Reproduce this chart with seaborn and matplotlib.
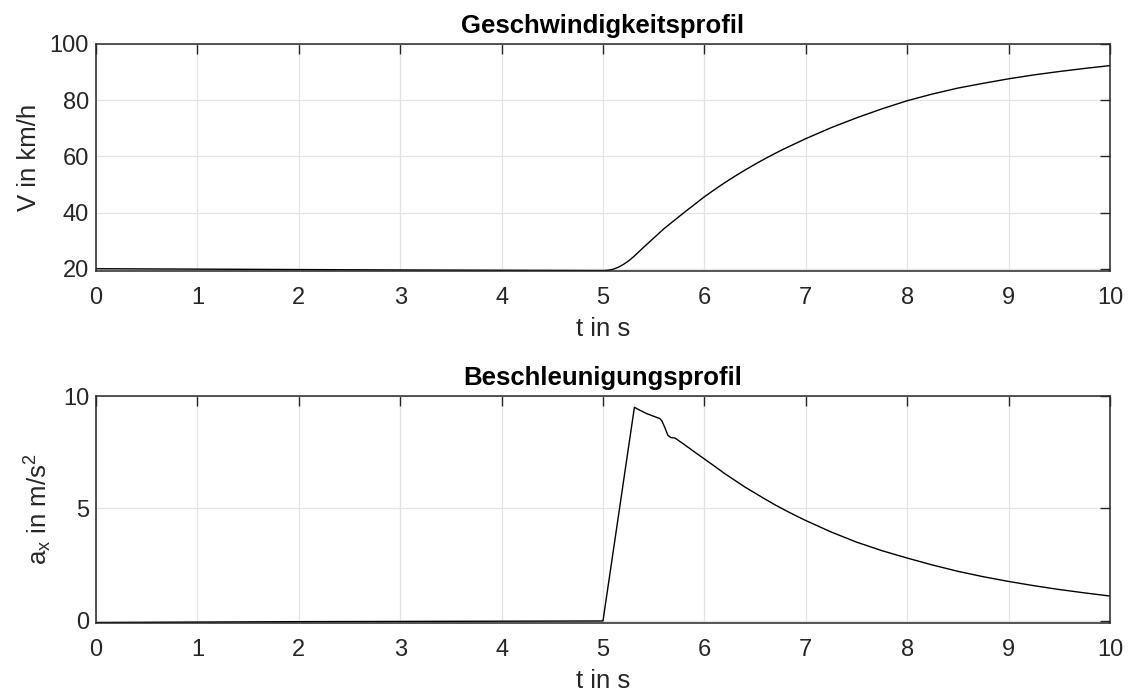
import matplotlib
matplotlib.use("Agg")
import matplotlib.pyplot as plt
import seaborn as sns
import pandas as pd

# Geschwindigkeit (km/h) ueber der Zeit (s)
t_v = [0, 1, 2, 3, 4, 5.0, 5.05, 5.1, 5.15, 5.2, 5.25, 5.3, 5.4, 5.5, 5.6,
       5.7, 5.8, 5.9, 6.0, 6.1, 6.2, 6.3, 6.4, 6.5, 6.6, 6.7, 6.8, 6.9, 7.0,
       7.25, 7.5, 7.75, 8.0, 8.25, 8.5, 8.75, 9.0, 9.25, 9.5, 9.75, 10.0]
v_kmh = [20.0, 19.85, 19.7, 19.55, 19.45, 19.35, 19.45, 19.8, 20.5, 21.5,
         22.7, 24.2, 27.6, 30.9, 34.2, 37.1, 40.0, 42.8, 45.6, 48.15, 50.6,
         52.9, 55.1, 57.2, 59.2, 61.1, 62.9, 64.6, 66.3, 70.2, 73.7, 76.9,
         79.8, 82.2, 84.3, 86.0, 87.6, 89.0, 90.2, 91.3, 92.3]

# Beschleunigung (m/s^2) ueber der Zeit (s)
t_a = [0, 1, 2, 3, 4, 5.0, 5.31, 5.35, 5.43, 5.5, 5.56, 5.58, 5.61, 5.64,
       5.67, 5.71, 5.8, 5.9, 6.0, 6.1, 6.2, 6.3, 6.4, 6.5, 6.6, 6.7, 6.8,
       6.9, 7.0, 7.25, 7.5, 7.75, 8.0, 8.25, 8.5, 8.75, 9.0, 9.25, 9.5,
       9.75, 10.0]
a_ms2 = [-0.08, -0.06, -0.04, -0.03, -0.02, -0.01, 9.5, 9.4, 9.22, 9.1,
         9.0, 8.9, 8.6, 8.25, 8.15, 8.13, 7.85, 7.52, 7.2, 6.88, 6.55,
         6.25, 5.95, 5.68, 5.41, 5.15, 4.91, 4.68, 4.46, 3.95, 3.5, 3.12,
         2.79, 2.48, 2.2, 1.96, 1.75, 1.56, 1.39, 1.24, 1.1]

x_ticks = list(range(0, 11))
v_ticks = [20, 40, 60, 80, 100]
a_ticks = [0, 5, 10]

df_v = pd.DataFrame({"t": t_v, "v": v_kmh})
df_a = pd.DataFrame({"t": t_a, "a": a_ms2})

# preparativos
sns.set_theme(style="whitegrid")
plt.rcParams["font.family"] = ["Liberation Sans", "DejaVu Sans"]
plt.rcParams["mathtext.fontset"] = "custom"
plt.rcParams["mathtext.rm"] = "Liberation Sans"
plt.rcParams["mathtext.it"] = "Liberation Sans"

cinza = "#262626"

fig, axes = plt.subplots(2, 1, figsize=(11.28, 6.95), dpi=100)
fig.subplots_adjust(left=0.0851, right=0.984, top=0.9367, bottom=0.1036,
                    hspace=0.551)

sns.lineplot(data=df_v, x="t", y="v", ax=axes[0], color="black", linewidth=1.0)
sns.lineplot(data=df_a, x="t", y="a", ax=axes[1], color="black", linewidth=1.0)

axes[0].set_ylim(19.2, 100)
axes[0].set_yticks(v_ticks)
axes[1].set_ylim(-0.1, 10)
axes[1].set_yticks(a_ticks)

axes[0].set_title("Geschwindigkeitsprofil", fontsize=18.5, fontweight="bold",
                  color="black", pad=8)
axes[1].set_title("Beschleunigungsprofil", fontsize=18.5, fontweight="bold",
                  color="black", pad=8)
axes[0].set_ylabel("V in km/h", fontsize=18.5, color=cinza, labelpad=6)
axes[1].set_ylabel(r"a$_\mathrm{x}$ in m/s$^\mathrm{2}$", fontsize=18.5,
                   color=cinza, labelpad=6)

for ax in axes:
    ax.set_xlim(0, 10)
    ax.set_xticks(x_ticks)
    ax.set_xlabel("t in s", fontsize=18.5, color=cinza, labelpad=6)
    ax.grid(True, color="#e3e3e3", linewidth=0.9)
    ax.tick_params(axis="both", direction="in", length=7, width=1.0,
                   color=cinza, labelcolor=cinza, labelsize=17,
                   top=True, right=True)
    ax.tick_params(axis="x", pad=11.5)
    ax.tick_params(axis="y", pad=5)
    for sp in ax.spines.values():
        sp.set_color(cinza)
        sp.set_linewidth(1.1)
        sp.set_visible(True)
    ax.set_facecolor("white")

fig.savefig("out.png", dpi=100, facecolor="white")
